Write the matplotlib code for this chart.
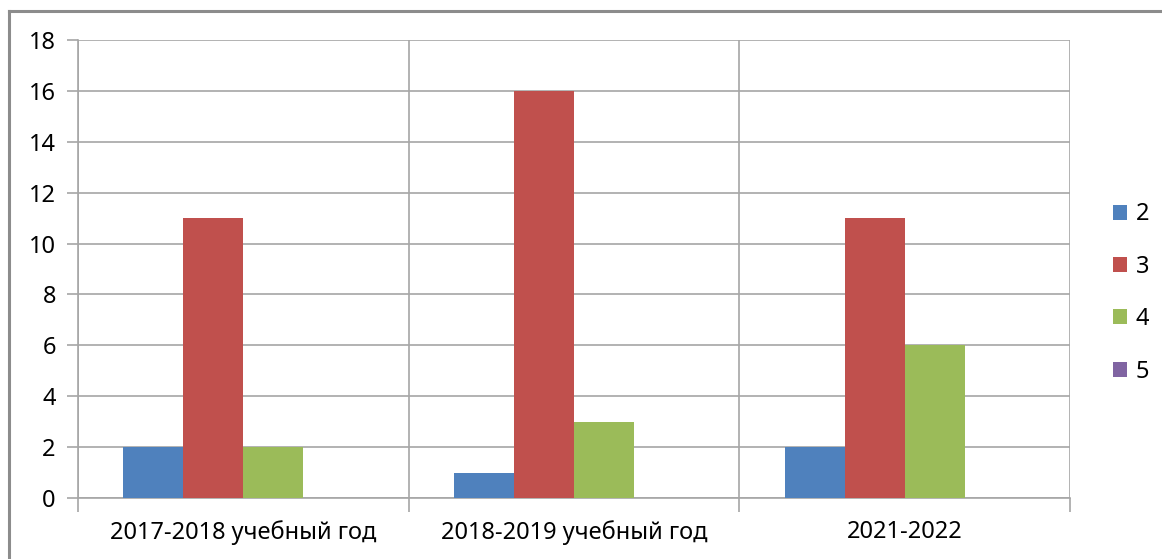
import matplotlib
matplotlib.use("Agg")
import matplotlib.pyplot as plt
import numpy as np
from matplotlib.lines import Line2D

categories = ["2017-2018 учебный год", "2018-2019 учебный год", "2021-2022"]
series_names = ["2", "3", "4", "5"]
values = {
    "2": [2, 1, 2],
    "3": [11, 16, 11],
    "4": [2, 3, 6],
    "5": [0, 0, 0],
}
colors = ["#4F81BD", "#C0504D", "#9BBB59", "#8064A2"]
yticks = [0, 2, 4, 6, 8, 10, 12, 14, 16, 18]

plt.rcParams['font.family'] = ['Noto Sans', 'DejaVu Sans']

fig = plt.figure(figsize=(11.62, 5.59), dpi=100)
W, H = 1162, 559
ax = fig.add_axes([78/W, 1-498/H, (1070-78)/W, (498-40)/H])

grid_c = "#a6a6a6"
fs = 17
bw = 60/330.7
x = np.arange(len(categories))
for k, name in enumerate(series_names):
    ax.bar(x + 0.5 + (k-1.5)*bw, values[name], width=bw, color=colors[k],
           label=name, zorder=3, linewidth=0)

ax.set_xlim(0, 3)
ax.set_ylim(0, 18)
ax.set_yticks(yticks)
ax.set_yticklabels([str(v) for v in yticks], fontsize=fs)
ax.set_xticks([0, 1, 2, 3])
ax.set_xticklabels([])
ax.set_xticks(x + 0.5, minor=True)
ax.set_xticklabels(categories, minor=True, fontsize=fs)
ax.tick_params(axis='x', which='major', length=10, color=grid_c, width=1.2)
ax.tick_params(axis='x', which='minor', length=0, pad=16)
ax.tick_params(axis='y', length=8, color=grid_c, width=1.2, pad=8)
ax.grid(True, axis='both', which='major', color=grid_c, linewidth=1.2, zorder=0)
ax.set_axisbelow(True)
for s in ['top', 'right']:
    ax.spines[s].set_visible(False)
for s in ['left', 'bottom']:
    ax.spines[s].set_color(grid_c)
    ax.spines[s].set_linewidth(1.2)

leg = fig.legend(loc='center left', bbox_to_anchor=(1092/W, 1-293/H), frameon=False,
                 fontsize=fs, handlelength=0.6, handleheight=0.6, handletextpad=0.35,
                 labelspacing=1.2)

# outer chart border (top and left visible)
fig.add_artist(Line2D([9/W, 1], [1-11/H, 1-11/H], transform=fig.transFigure,
                      color="#8c8c8c", linewidth=2.2))
fig.add_artist(Line2D([9/W, 9/W], [0, 1-11/H], transform=fig.transFigure,
                      color="#8c8c8c", linewidth=2.2))

fig.savefig("out.png", dpi=100)
